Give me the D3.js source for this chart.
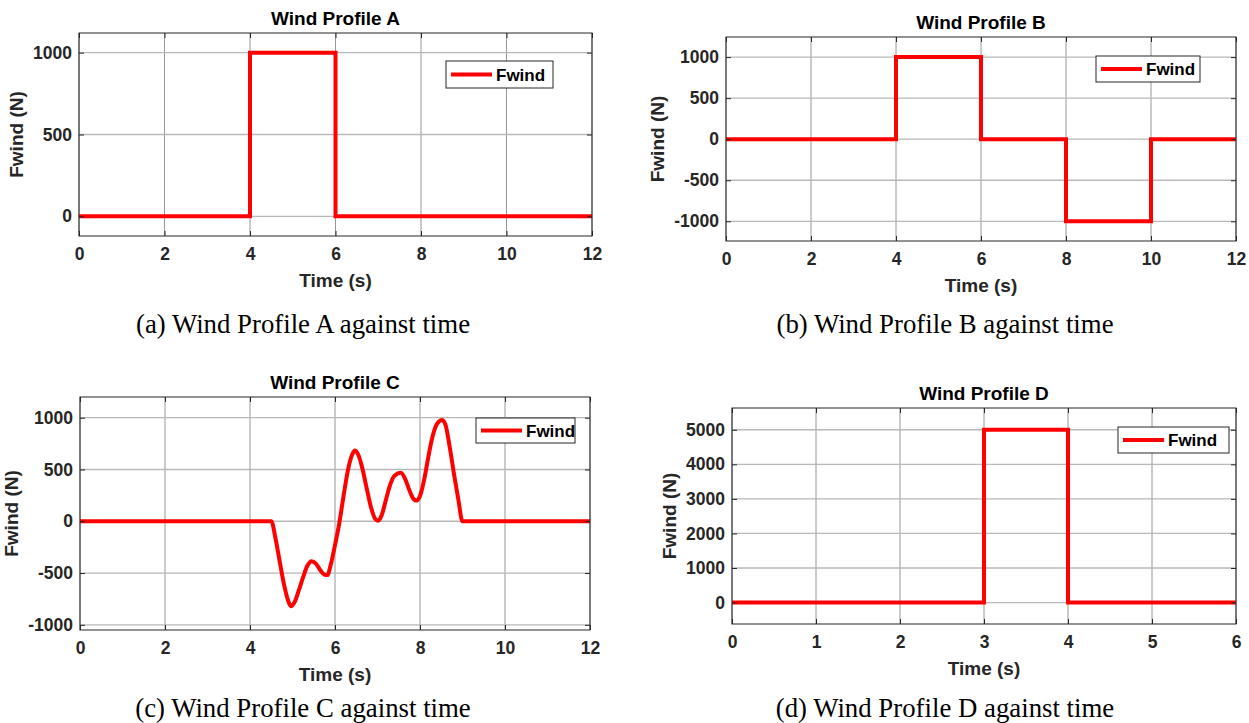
<!DOCTYPE html>
<html>
<head>
<meta charset="utf-8">
<title>Wind profiles against time</title>
<script src="https://cdn.jsdelivr.net/npm/d3@7"></script>
<style>
  html, body { margin: 0; padding: 0; background: #fff; }
  svg { display: block; }
</style>
</head>
<body>
<svg id="chart" width="1249" height="723"></svg>
<script>
'use strict';

// Profile A: one positive gust between 4 s and 6 s (step breakpoints).
var timeA = [0, 4, 6, 12];
var fwindA = [0, 1000, 0, 0];

// Profile B: positive gust then negative gust.
var timeB = [0, 4, 6, 8, 10, 12];
var fwindB = [0, 1000, 0, -1000, 0, 0];

// Profile C: oscillating gust.
var timeC = [0, 4.5, 4.6, 4.7, 4.8, 4.9, 4.96, 5.05, 5.15, 5.25, 5.35, 5.45,
  5.55, 5.65, 5.75, 5.82, 5.9, 6.0, 6.1, 6.2, 6.3, 6.4, 6.47, 6.55, 6.65,
  6.75, 6.85, 6.95, 7.02, 7.1, 7.2, 7.3, 7.4, 7.55, 7.65, 7.75, 7.85, 7.92,
  8.0, 8.1, 8.2, 8.3, 8.4, 8.52, 8.6, 8.7, 8.8, 8.9, 9.0, 12];
var fwindC = [0, 0, -165, -390, -610, -770, -820, -780, -665, -540, -430, -385,
  -410, -470, -515, -520, -420, -230, -20, 240, 485, 640, 683, 640, 500,
  310, 130, 20, 5, 60, 210, 355, 440, 468, 410, 300, 215, 200,
  244, 405, 630, 825, 940, 978, 930, 715, 455, 215, 0, 0];

// Profile D: one large gust between 3 s and 4 s.
var timeD = [0, 3, 4, 6];
var fwindD = [0, 5000, 0, 0];

var xTicks12 = [0, 2, 4, 6, 8, 10, 12];
var xTicks6 = [0, 1, 2, 3, 4, 5, 6];
var yTicksA = [0, 500, 1000];
var yTicksBC = [-1000, -500, 0, 500, 1000];
var yTicksD = [0, 1000, 2000, 3000, 4000, 5000];

var titles = ['Wind Profile A', 'Wind Profile B', 'Wind Profile C', 'Wind Profile D'];
var captions = [
  '(a) Wind Profile A against time',
  '(b) Wind Profile B against time',
  '(c) Wind Profile C against time',
  '(d) Wind Profile D against time'
];
var seriesName = 'Fwind';
var xLabel = 'Time (s)';
var yLabel = 'Fwind (N)';

var AXIS_FONT = '"Liberation Sans", Arial, Helvetica, sans-serif';
var CAPTION_FONT = '"Liberation Serif", "Times New Roman", serif';
var INK = '#262626';
var RED = '#ff0000';

var panels = [
  { time: timeA, fwind: fwindA, smooth: false, xTicks: xTicks12, yTicks: yTicksA,
    xDomain: [0, 12], yDomain: [-120, 1120],
    box: { left: 79, right: 592, top: 33, bottom: 236 },
    legend: { x: 446, y: 61, w: 107, h: 27 },
    title: titles[0], caption: captions[0], captionX: 303, captionY: 333 },
  { time: timeB, fwind: fwindB, smooth: false, xTicks: xTicks12, yTicks: yTicksBC,
    xDomain: [0, 12], yDomain: [-1240, 1245],
    box: { left: 726, right: 1236, top: 37, bottom: 241 },
    legend: { x: 1096, y: 56, w: 104, h: 26 },
    title: titles[1], caption: captions[1], captionX: 945, captionY: 333 },
  { time: timeC, fwind: fwindC, smooth: true, xTicks: xTicks12, yTicks: yTicksBC,
    xDomain: [0, 12], yDomain: [-1050, 1200],
    box: { left: 80, right: 590, top: 397, bottom: 630 },
    legend: { x: 476, y: 418, w: 99, h: 25 },
    title: titles[2], caption: captions[2], captionX: 303, captionY: 717 },
  { time: timeD, fwind: fwindD, smooth: false, xTicks: xTicks6, yTicks: yTicksD,
    xDomain: [0, 6], yDomain: [-620, 5630],
    box: { left: 732, right: 1236, top: 408, bottom: 624 },
    legend: { x: 1118, y: 427, w: 111, h: 26 },
    title: titles[3], caption: captions[3], captionX: 945, captionY: 717 }
];

var svg = d3.select('#chart');
svg.append('rect').attr('width', 1249).attr('height', 723).attr('fill', '#fff');

var intFormat = d3.format('d');

/**
 * MATLAB-ish tick styling for an axis group.
 */
function styleAxis(sel) {
  sel.select('.domain').remove();
  sel.attr('font-family', AXIS_FONT)
    .attr('font-size', 17.5)
    .attr('font-weight', 'bold');
  sel.selectAll('.tick line').attr('stroke', INK);
  sel.selectAll('.tick text').attr('fill', INK);
}

/**
 * Draws one subplot: grid, series, frame, axes, labels, legend and caption.
 */
function drawPanel(p) {
  var b = p.box,
      g = svg.append('g').attr('class', 'panel'),
      x, y, line, gy, bb, lg;

  x = d3.scaleLinear().domain(p.xDomain).range([b.left, b.right]);
  y = d3.scaleLinear().domain(p.yDomain).range([b.bottom, b.top]);

  // grid
  g.append('g').selectAll('line').data(p.xTicks).join('line')
    .attr('x1', function(d) { return x(d); })
    .attr('x2', function(d) { return x(d); })
    .attr('y1', b.top).attr('y2', b.bottom)
    .attr('stroke', '#969696').attr('stroke-width', 1);
  g.append('g').selectAll('line').data(p.yTicks).join('line')
    .attr('x1', b.left).attr('x2', b.right)
    .attr('y1', function(d) { return y(d); })
    .attr('y2', function(d) { return y(d); })
    .attr('stroke', '#b8b8b8').attr('stroke-width', 1.3);

  // series
  line = d3.line()
    .x(function(d) { return x(d[0]); })
    .y(function(d) { return y(d[1]); })
    .curve(p.smooth ? d3.curveMonotoneX : d3.curveStepAfter);
  g.append('path')
    .datum(d3.zip(p.time, p.fwind))
    .attr('d', line)
    .attr('fill', 'none')
    .attr('stroke', RED)
    .attr('stroke-width', 4)
    .attr('stroke-linejoin', 'miter');

  // frame
  g.append('rect')
    .attr('x', b.left).attr('y', b.top)
    .attr('width', b.right - b.left).attr('height', b.bottom - b.top)
    .attr('fill', 'none').attr('stroke', INK).attr('stroke-width', 1);

  // axes, ticks pointing inwards
  g.append('g').attr('transform', 'translate(0,' + b.bottom + ')')
    .call(d3.axisBottom(x).tickValues(p.xTicks).tickSize(-5).tickPadding(12)
      .tickFormat(intFormat))
    .call(styleAxis);
  g.append('g').attr('transform', 'translate(0,' + b.top + ')')
    .call(d3.axisTop(x).tickValues(p.xTicks).tickSize(-5).tickFormat(''))
    .call(styleAxis);
  gy = g.append('g').attr('transform', 'translate(' + b.left + ',0)')
    .call(d3.axisLeft(y).tickValues(p.yTicks).tickSize(-5).tickPadding(7)
      .tickFormat(function(d) { return intFormat(d).replace('\u2212', '-'); }))
    .call(styleAxis);
  g.append('g').attr('transform', 'translate(' + b.right + ',0)')
    .call(d3.axisRight(y).tickValues(p.yTicks).tickSize(-5).tickFormat(''))
    .call(styleAxis);

  // title and axis labels
  g.append('text')
    .attr('x', (b.left + b.right) / 2).attr('y', b.top - 8)
    .attr('text-anchor', 'middle')
    .attr('font-family', AXIS_FONT).attr('font-size', 19).attr('font-weight', 'bold')
    .attr('fill', '#000')
    .text(p.title);
  g.append('text')
    .attr('x', (b.left + b.right) / 2).attr('y', b.bottom + 51)
    .attr('text-anchor', 'middle')
    .attr('font-family', AXIS_FONT).attr('font-size', 19).attr('font-weight', 'bold')
    .attr('fill', INK)
    .text(xLabel);
  bb = gy.node().getBBox();
  g.append('text')
    .attr('transform', 'translate(' + (b.left + bb.x - 10) + ',' + ((b.top + b.bottom) / 2) + ') rotate(-90)')
    .attr('text-anchor', 'middle')
    .attr('font-family', AXIS_FONT).attr('font-size', 19).attr('font-weight', 'bold')
    .attr('fill', INK)
    .text(yLabel);

  // legend
  lg = g.append('g').attr('transform', 'translate(' + p.legend.x + ',' + p.legend.y + ')');
  lg.append('rect')
    .attr('width', p.legend.w).attr('height', p.legend.h)
    .attr('fill', '#fff').attr('stroke', INK).attr('stroke-width', 1);
  lg.append('line')
    .attr('x1', 5).attr('x2', 46)
    .attr('y1', p.legend.h / 2).attr('y2', p.legend.h / 2)
    .attr('stroke', RED).attr('stroke-width', 4);
  lg.append('text')
    .attr('x', 50).attr('y', p.legend.h / 2 + 6)
    .attr('font-family', AXIS_FONT).attr('font-size', 17).attr('font-weight', 'bold')
    .attr('fill', '#000')
    .text(seriesName);

  // caption
  svg.append('text')
    .attr('x', p.captionX).attr('y', p.captionY)
    .attr('text-anchor', 'middle')
    .attr('font-family', CAPTION_FONT).attr('font-size', 26.8)
    .attr('fill', '#000')
    .text(p.caption);
}

panels.forEach(drawPanel);
</script>
</body>
</html>
